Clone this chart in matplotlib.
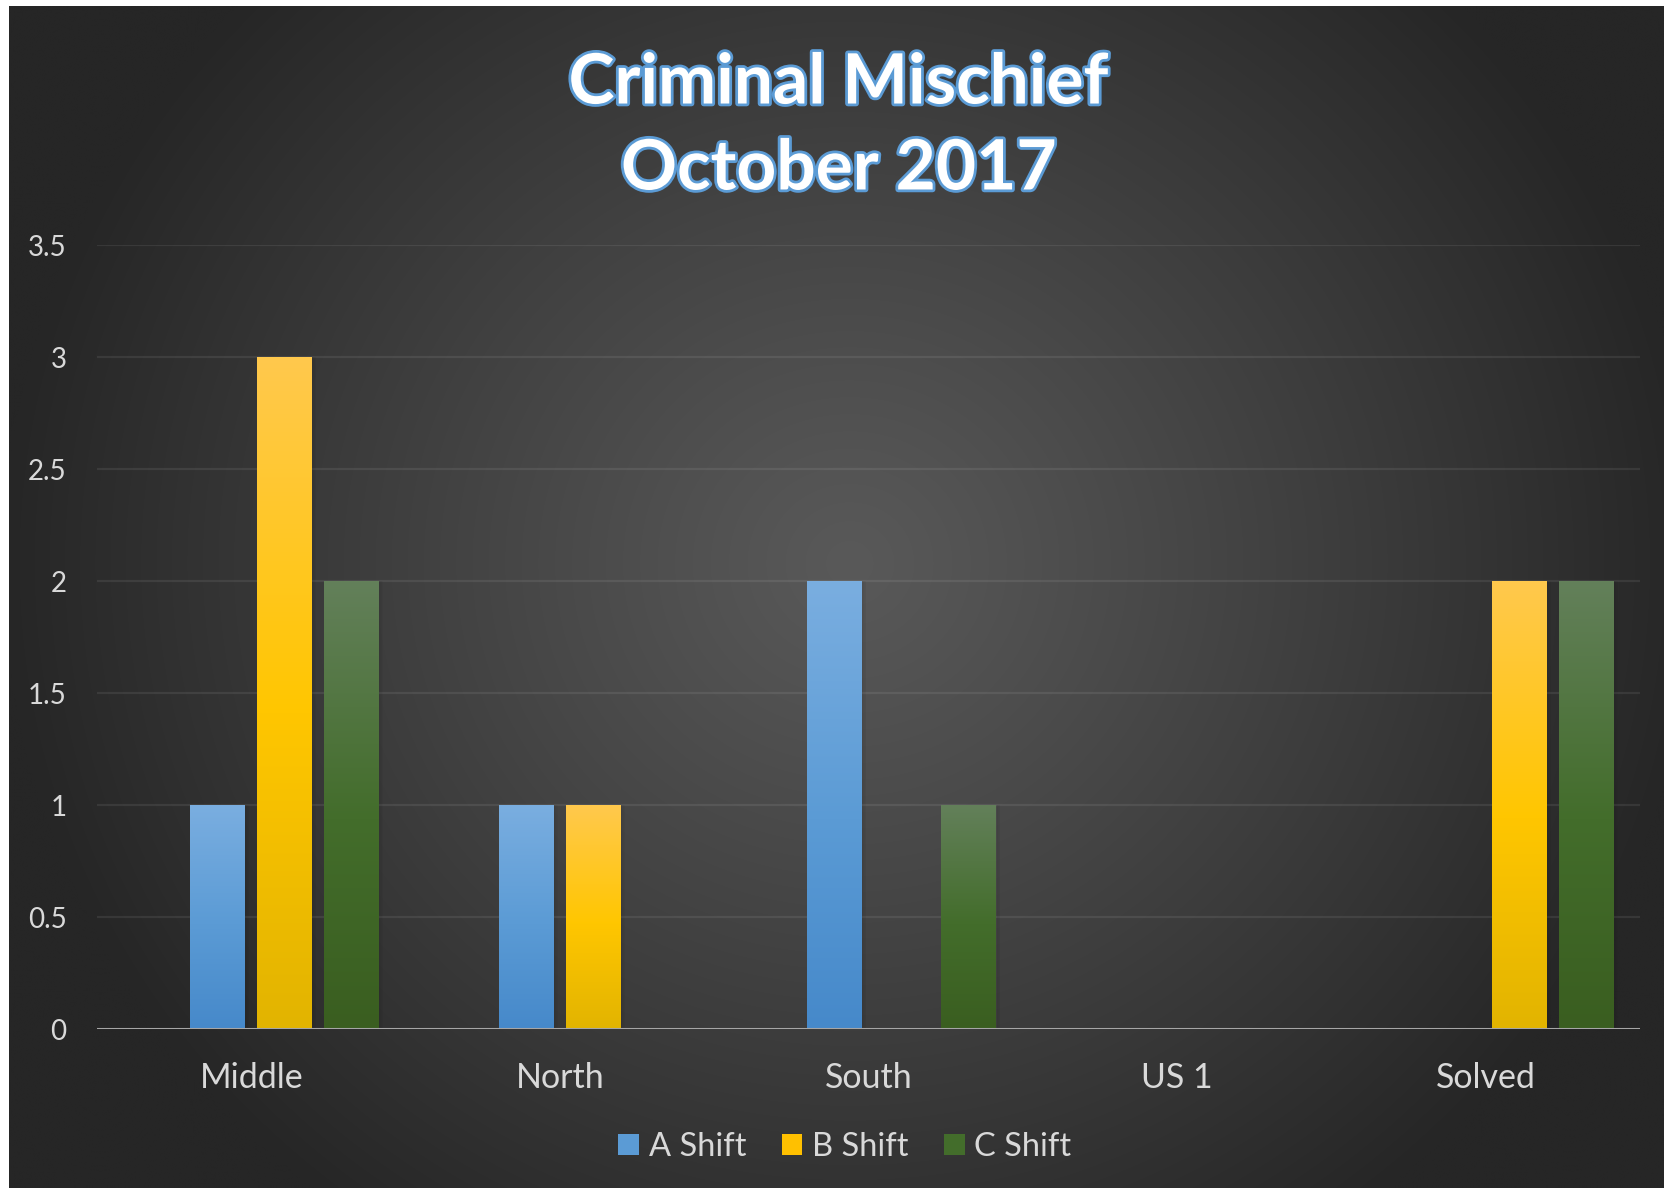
import numpy as np
import matplotlib
matplotlib.use("Agg")
import matplotlib.pyplot as plt
import matplotlib.patheffects as pe
from matplotlib.patches import Patch
from matplotlib.colors import LinearSegmentedColormap

# Datos
categorias = ["Middle", "North", "South", "US 1", "Solved"]
series = ["A Shift", "B Shift", "C Shift"]
a_shift = [1, 1, 2, 0, 0]
b_shift = [3, 1, 0, 0, 2]
c_shift = [2, 0, 1, 0, 2]
valores = [a_shift, b_shift, c_shift]
y_ticks = [0, 0.5, 1, 1.5, 2, 2.5, 3, 3.5]
y_labels = ["0", "0.5", "1", "1.5", "2", "2.5", "3", "3.5"]

# colores: (arriba, medio, abajo)
grad = [
    ("#7AAEE0", "#5B9BD5", "#4689CA"),
    ("#FFC94D", "#FFC600", "#E2B400"),
    ("#63805A", "#436D2B", "#3A5E20"),
]
legend_cols = ["#5B9BD5", "#FFC000", "#436D2B"]

plt.rcParams["font.family"] = ["Lato", "DejaVu Sans"]

W, H = 1665, 1188
fig = plt.figure(figsize=(W / 100, H / 100), dpi=100, facecolor="white")

# fondo con degradado radial
bg = fig.add_axes([9 / W, 0, 1 - 9 / W, 1 - 6 / H], zorder=-10)
yy, xx = np.mgrid[0:H, 0:W]
r = np.sqrt((xx - 845) ** 2 + ((yy - 560) * 1.05) ** 2)
b = 89 - 51 * np.clip(r / 850, 0, 1) ** 1.1
img = np.dstack([b, b, b]) / 255
bg.imshow(img, aspect="auto", extent=[0, 1, 0, 1], origin="upper")
bg.set_axis_off()

ax = fig.add_axes([97 / W, 1 - 1029 / H, (1640 - 97) / W, (1029 - 245) / H])
ax.patch.set_alpha(0)

x = np.arange(len(categorias))
slot = 67 / 308.6
ancho = 55 / 308.6
offsets = [-0.5 * slot, 0.5 * slot, 1.5 * slot]

def cmap_de(c):
    return LinearSegmentedColormap.from_list("g", [(0, c[2]), (0.47, c[1]), (1, c[0])])

for i, vals in enumerate(valores):
    cm = cmap_de(grad[i])
    bars = ax.bar(x + offsets[i], vals, width=ancho, color=legend_cols[i], zorder=3)
    for bar in bars:
        h = bar.get_height()
        if h <= 0:
            continue
        x0 = bar.get_x()
        w = bar.get_width()
        # sombra
        for k in range(1, 6):
            ax.add_patch(plt.Rectangle((x0 + w + (k - 1) * 0.0025, 0), 0.0025, h,
                                       color="black", alpha=0.10 - k * 0.015, zorder=2, lw=0))
        g = np.linspace(1, 0, 256).reshape(-1, 1)
        im = ax.imshow(g, cmap=cm, aspect="auto", extent=[x0, x0 + w, 0, h],
                       origin="upper", zorder=4, vmin=0, vmax=1)
        im.set_clip_path(bar)

ax.set_xlim(-0.5, 4.5)
ax.set_ylim(0, 3.5)

# rejilla
for t in y_ticks[1:]:
    ax.axhline(t, color="white", alpha=0.08, lw=1.6, zorder=1)
ax.axhline(0, color="#A6A6A6", lw=2.2, zorder=5)

for s in ax.spines.values():
    s.set_visible(False)
ax.set_xticks(x)
ax.set_xticklabels(categorias, fontsize=24.5, color="#D9D9D9")
ax.set_yticks(y_ticks)
ax.set_yticklabels(y_labels, fontsize=20, color="#D9D9D9")
ax.tick_params(length=0)
ax.tick_params(axis="x", pad=24)
ax.tick_params(axis="y", pad=22)

fig.text(0.504, 1 - 127 / H, "Criminal Mischief\nOctober 2017", ha="center", va="center",
         fontsize=50, fontweight="bold", color="white", linespacing=1.45,
         path_effects=[pe.withStroke(linewidth=4, foreground="#5B9BD5")])

handles = [Patch(facecolor=legend_cols[i], label=series[i]) for i in range(3)]
fig.legend(handles=handles, loc="center", bbox_to_anchor=(845 / W, 1 - 1147 / H), ncol=3,
           frameon=False, fontsize=23.5, labelcolor="#D9D9D9", handlelength=0.62,
           handleheight=0.62, handletextpad=0.3, columnspacing=1.1)

fig.savefig("out.png", dpi=100, facecolor="white")
